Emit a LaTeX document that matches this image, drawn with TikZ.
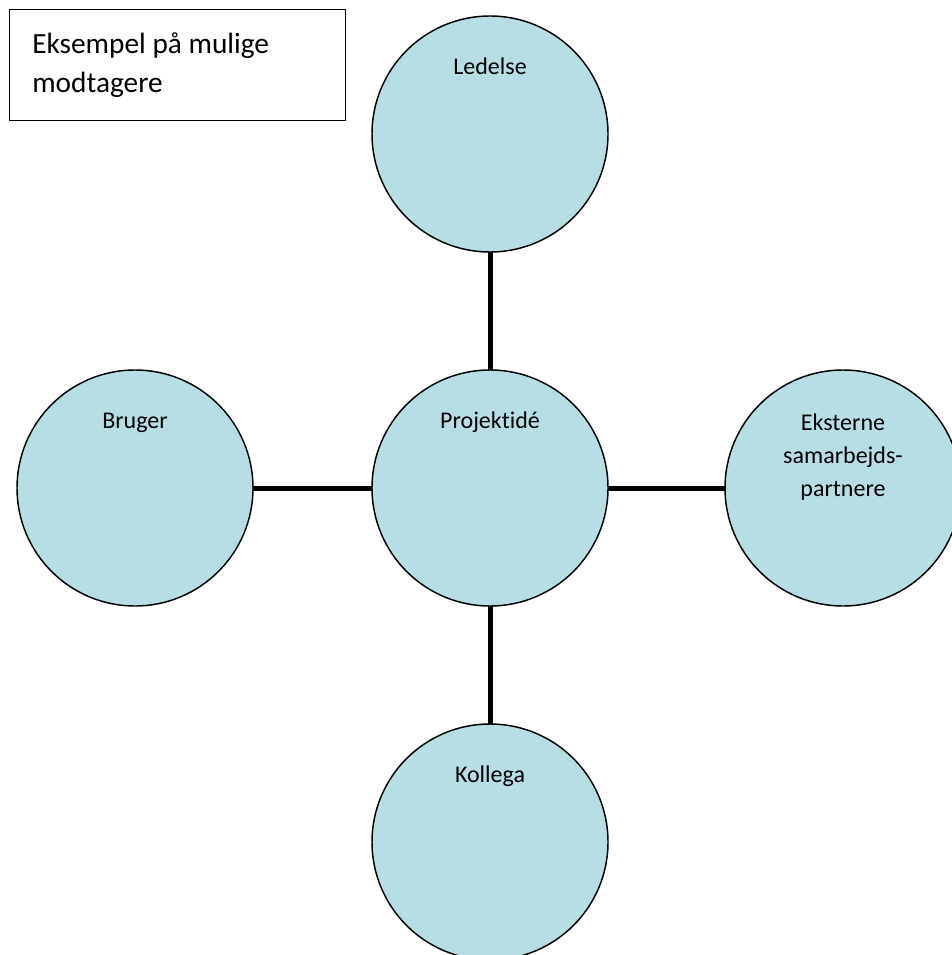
\documentclass[tikz,border=0pt]{standalone}
\usepackage{fontspec}
\setmainfont{Carlito}[Ligatures=NoCommon]
\definecolor{bubble}{RGB}{183,222,228}
\tikzset{
  bub/.style={circle, draw=black, line width=1.1pt, fill=bubble, inner sep=0pt, outer sep=0pt, minimum size=177pt},
  lbl/.style={anchor=base, align=center, inner sep=0.75pt, font=\fontsize{18}{24.75}\selectfont},
  link/.style={line width=3.75pt}
}
\begin{document}
\begin{tikzpicture}[x=0.75pt,y=0.75pt,yscale=-1,xscale=1]
\useasboundingbox (0,0) rectangle (951,955);

% Bubbles
\node[bub] (led) at (490,134) {};
\node[bub] (proj) at (490,488) {};
\node[bub] (brug) at (135,488) {};
\node[bub] (eks) at (843,488) {};
\node[bub] (kol) at (490,842) {};

% Connectors
\draw[link] (led.south) -- (proj.north);
\draw[link] (proj.south) -- (kol.north);
\draw[link] (brug.east) -- (proj.west);
\draw[link] (proj.east) -- (eks.west);

% Text Node
\node[lbl] (ledT) at (490,75) {Ledelse};
\node[lbl] (projT) at (490,428) {Projektidé};
\node[lbl] (brugT) at (135,428) {Bruger};
\node[lbl] (kolT) at (490,782) {Kollega};
\node[lbl, anchor=north] (eksT) at (843,413) {Eksterne\\samarbejds-\\partnere};

% Text Node
\node[draw=black, line width=0.9pt, anchor=north west, minimum height=83pt, text width=218pt, inner xsep=17pt, align=flush left, font=\fontsize{22}{29}\selectfont] (box) at (9,9) {Eksempel på mulige\\modtagere};

\end{tikzpicture}
\end{document}
